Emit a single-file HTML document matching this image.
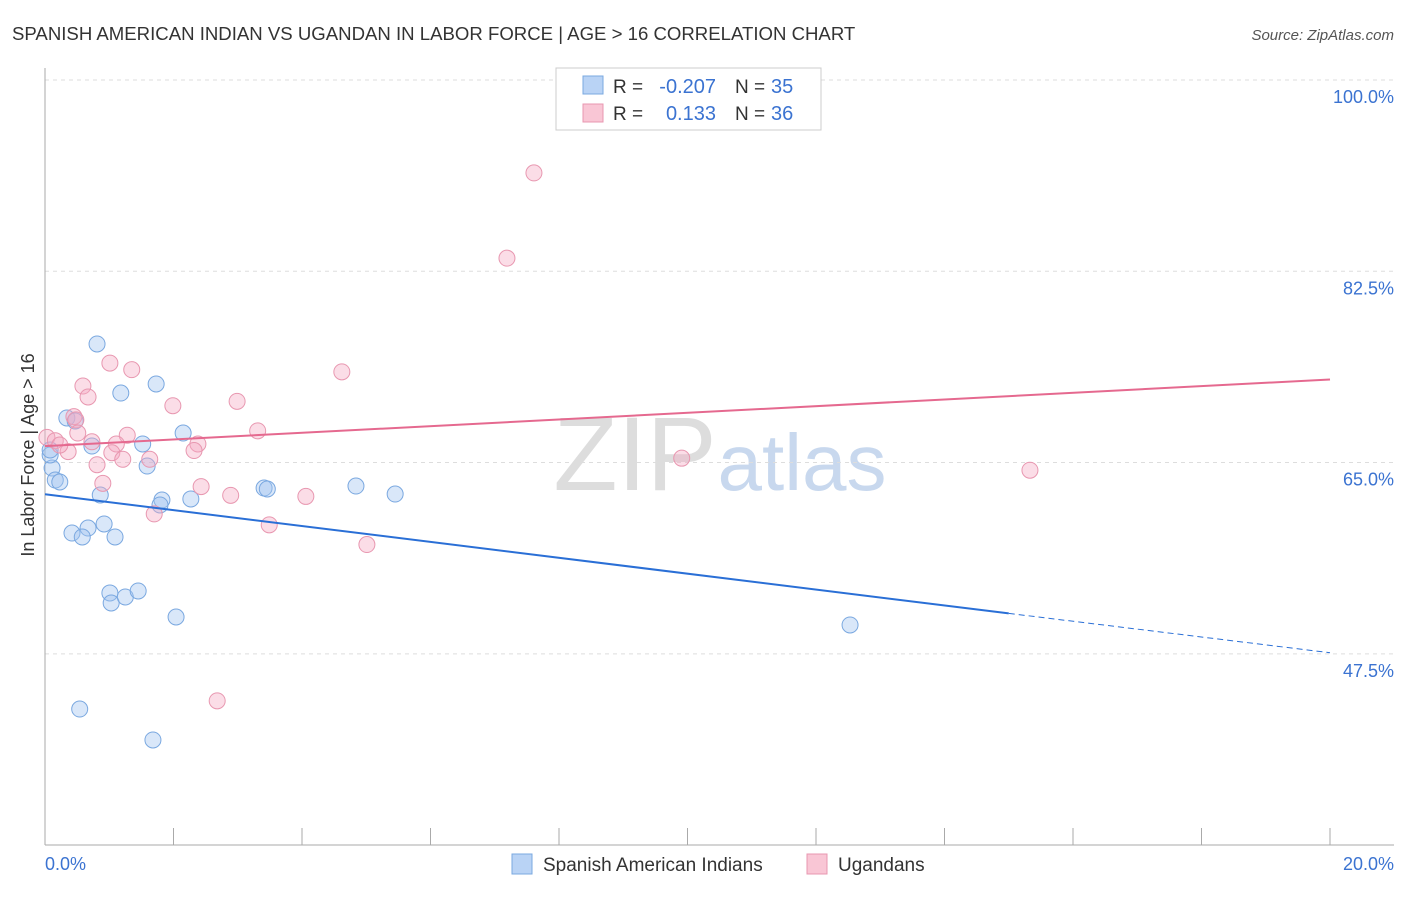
<!DOCTYPE html>
<html><head><meta charset="utf-8"><style>
body{margin:0;background:#fff;font-family:"Liberation Sans",sans-serif;}
svg text{font-family:"Liberation Sans",sans-serif;}
</style></head><body>
<svg id="chart" width="1406" height="892">
<text x="12" y="40" font-size="18.6" fill="#333">SPANISH AMERICAN INDIAN VS UGANDAN IN LABOR FORCE | AGE &gt; 16 CORRELATION CHART</text>
<text x="1394" y="40" font-size="15" fill="#555" font-style="italic" text-anchor="end">Source: ZipAtlas.com</text>
<text x="635" y="490" font-size="105" fill="#ddd" font-family="Liberation Serif" text-anchor="middle">ZIP</text>
<text x="802" y="490" font-size="80" fill="#c8d8ee" text-anchor="middle">atlas</text>
<g id="grid"></g>
<g id="axes"></g>
<g id="marks"></g>
<text transform="translate(34,455) rotate(-90)" font-size="18" fill="#333" text-anchor="middle">In Labor Force | Age &gt; 16</text>
<text x="45" y="870" font-size="18" fill="#3b73d1">0.0%</text>
<text x="1394" y="870" font-size="18" fill="#3b73d1" text-anchor="end">20.0%</text>
<g>
<rect x="556" y="68" width="265" height="62" fill="#fff" stroke="#ccc"/>
<rect x="583" y="76" width="20" height="18" fill="#b9d3f5" stroke="#7aa8e0"/>
<rect x="583" y="104" width="20" height="18" fill="#f9c6d5" stroke="#e897b0"/>
<text x="613" y="93" font-size="19" fill="#333">R =</text>
<text x="716" y="93" font-size="20" fill="#3b73d1" text-anchor="end">-0.207</text>
<text x="735" y="93" font-size="19" fill="#333">N =</text>
<text x="771" y="93" font-size="20" fill="#3b73d1">35</text>
<text x="613" y="120" font-size="19" fill="#333">R =</text>
<text x="716" y="120" font-size="20" fill="#3b73d1" text-anchor="end">0.133</text>
<text x="735" y="120" font-size="19" fill="#333">N =</text>
<text x="771" y="120" font-size="20" fill="#3b73d1">36</text>
</g>
<g>
<rect x="512" y="854" width="20" height="20" fill="#b9d3f5" stroke="#7aa8e0"/>
<text x="543" y="871" font-size="19" fill="#333">Spanish American Indians</text>
<rect x="807" y="854" width="20" height="20" fill="#f9c6d5" stroke="#e897b0"/>
<text x="838" y="871" font-size="19" fill="#333">Ugandans</text>
</g>
</svg>
<script>
const yTicks=[100,82.5,65,47.5];
const yTickLabels=["100.0%","82.5%","65.0%","47.5%"];
const xTicks=[0,2,4,6,8,10,12,14,16,18,20];
const blueX=[0.81,1.18,1.73,0.34,0.47,0.73,1.52,2.15,1.59,0.11,0.08,0.16,0.23,0.86,1.82,1.79,2.27,3.41,3.46,4.84,5.45,0.42,0.67,0.92,0.58,1.09,1.01,1.03,1.25,1.45,2.04,12.53,0.54,1.68,0.08];
const blueY=[75.85,71.36,72.19,69.08,68.8,66.51,66.7,67.7,64.68,64.5,65.69,63.4,63.22,62.03,61.57,61.12,61.67,62.67,62.58,62.85,62.12,58.55,59.01,59.38,58.19,58.19,53.07,52.15,52.7,53.25,50.87,50.14,42.45,39.62,66.15];
const pinkX=[7.61,7.19,1.01,1.35,4.62,0.59,0.67,2.99,1.99,0.45,0.48,3.31,0.51,0.03,0.16,0.73,1.28,1.11,2.38,2.32,0.36,1.04,1.21,1.63,0.81,9.91,15.33,2.43,0.90,2.89,4.06,1.70,3.49,5.01,2.68,0.23];
const pinkY=[91.5,83.7,74.1,73.5,73.3,72.0,71.0,70.6,70.2,69.2,68.9,67.9,67.7,67.3,67.0,66.9,67.5,66.7,66.7,66.1,66.0,65.9,65.3,65.3,64.8,65.4,64.3,62.8,63.1,62.0,61.9,60.3,59.3,57.5,43.2,66.6];
const blueTrend=[62.1,51.2,47.6]; const blueTrendX=[0,15,20];
const pinkTrend=[66.5,72.6]; const pinkTrendX=[0,20];
const NS="http://www.w3.org/2000/svg";
const X=v=>45+v*64.25, Y=v=>80+(100-v)*10.93;
function mk(t,a,p){const e=document.createElementNS(NS,t);for(const k in a)e.setAttribute(k,a[k]);p.appendChild(e);return e;}
const grid=document.getElementById('grid'),axes=document.getElementById('axes'),marks=document.getElementById('marks');
yTicks.forEach((v,i)=>{
const l=mk('line',{x1:45,x2:1394,y1:Y(v),y2:Y(v),stroke:'#ddd','stroke-dasharray':'4,4'},grid);


const t=mk('text',{x:1394,y:Y(v)+23,'font-size':18,fill:'#3b73d1','text-anchor':'end'},grid);t.textContent=yTickLabels[i];


});
const ax=mk('line',{x1:45,x2:1394,y1:845,y2:845,stroke:'#aaa'},axes);


const ay=mk('line',{x1:45,x2:45,y1:68,y2:845,stroke:'#aaa'},axes);


xTicks.forEach(v=>{const t=mk('line',{x1:X(v),x2:X(v),y1:828,y2:845,stroke:'#aaa'},axes);

});
blueX.forEach((x,i)=>{const c=mk('circle',{cx:X(x),cy:Y(blueY[i]),r:8,fill:'rgba(160,195,240,0.4)',stroke:'#7aa8e0','stroke-width':1},marks);

});
pinkX.forEach((x,i)=>{const c=mk('circle',{cx:X(x),cy:Y(pinkY[i]),r:8,fill:'rgba(245,170,195,0.4)',stroke:'#e897b0','stroke-width':1},marks);

});
const b1=mk('line',{x1:X(blueTrendX[0]),y1:Y(blueTrend[0]),x2:X(blueTrendX[1]),y2:Y(blueTrend[1]),stroke:'#2a6fd6','stroke-width':2},marks);


const b2=mk('line',{x1:X(blueTrendX[1]),y1:Y(blueTrend[1]),x2:X(blueTrendX[2]),y2:Y(blueTrend[2]),stroke:'#2a6fd6','stroke-width':1,'stroke-dasharray':'6,4'},marks);


const p1=mk('line',{x1:X(pinkTrendX[0]),y1:Y(pinkTrend[0]),x2:X(pinkTrendX[1]),y2:Y(pinkTrend[1]),stroke:'#e5698f','stroke-width':2},marks);


</script>
</body></html>
